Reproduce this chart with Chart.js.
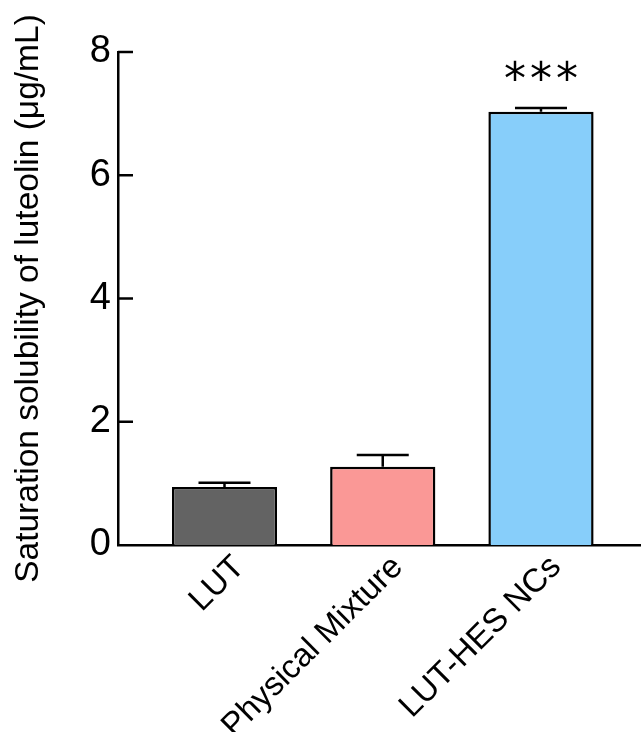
<!DOCTYPE html>
<html>
<head>
<meta charset="utf-8">
<script src="https://cdn.jsdelivr.net/npm/chart.js@4"></script>
<style>
  html, body { margin:0; padding:0; background:#fff; }
  #wrap { width:641px; height:732px; position:relative; }
</style>
</head>
<body>
<div id="wrap"><canvas id="chart"></canvas></div>
<script>
// data
const categories = ['LUT', 'Physical Mixture', 'LUT-HES NCs'];
const means = [0.94, 1.27, 7.03];
const errors = [0.07, 0.19, 0.06];
const signif = ['', '', '***'];
const barColors = ['#636363', '#FA9896', '#87CEFA'];
const yTicks = [0, 2, 4, 6, 8];

const FONT = "'Liberation Sans', Arial, sans-serif";

// error bars, inward y ticks, significance stars
const extras = {
  id: 'extras',
  afterDatasetsDraw(chart){
    const ctx = chart.ctx;
    const x = chart.scales.x, y = chart.scales.y;
    ctx.save();
    ctx.strokeStyle = '#000';
    ctx.lineWidth = 2.5;
    means.forEach((m, i)=>{
      const px = x.getPixelForValue(i);
      const top = y.getPixelForValue(m);
      const hi = y.getPixelForValue(m + errors[i]);
      ctx.beginPath();
      ctx.moveTo(px, top); ctx.lineTo(px, hi);
      ctx.moveTo(px - 26, hi); ctx.lineTo(px + 26, hi);
      ctx.stroke();
      if (signif[i]){
        ctx.fillStyle = '#000';
        ctx.font = "44px 'DejaVu Sans', sans-serif";
        ctx.textAlign = 'center';
        ctx.textBaseline = 'alphabetic';
        const chars = signif[i].split('');
        chars.forEach((c, k)=>{
          const dx = (k - (chars.length - 1) / 2) * 26;
          ctx.fillText(c, px + dx, hi - 14);
        });
      }
    });
    // tick marks pointing into the plot
    const left = chart.chartArea.left;
    yTicks.forEach(v=>{
      if (v === 0) return;
      const py = y.getPixelForValue(v);
      ctx.beginPath();
      ctx.moveTo(left, py); ctx.lineTo(left + 15, py);
      ctx.stroke();
    });
    ctx.restore();
  }
};

new Chart(document.getElementById('chart'), {
  type: 'bar',
  data: {
    datasets: [{
      data: means.map((v, i)=>({ x: i, y: v })),
      backgroundColor: barColors,
      borderColor: '#000',
      borderWidth: 2.5,
      borderSkipped: 'bottom',
      barPercentage: 0.665,
      categoryPercentage: 1.0
    }]
  },
  options: {
    responsive: true,
    maintainAspectRatio: false,
    animation: false,
    layout: { padding: { left: 0, top: 52, right: 0, bottom: 0 } },
    plugins: { legend: { display: false }, tooltip: { enabled: false } },
    scales: {
      x: {
        type: 'linear',
        offset: false,
        bounds: 'data',
        min: -0.673,
        max: 2.632,
        grid: { display: false, drawTicks: false, offset: false },
        border: { display: true, color: '#000', width: 2.5 },
        afterBuildTicks: (s)=>{ s.ticks = categories.map((c, i)=>({ value: i })); },
        afterFit: (s)=>{ s.height = 187; },
        ticks: {
          autoSkip: false,
          maxRotation: 45,
          minRotation: 45,
          padding: 3,
          labelOffset: 15,
          color: '#000',
          font: { family: FONT, size: 33 },
          callback: (v)=> categories[v]
        }
      },
      y: {
        min: 0,
        max: 8,
        grid: { display: false, drawTicks: false },
        border: { display: true, color: '#000', width: 2.5 },
        afterBuildTicks: (s)=>{ s.ticks = yTicks.map(v=>({ value: v })); },
        afterFit: (s)=>{ s.width = 118; },
        ticks: {
          padding: 7,
          color: '#000',
          font: { family: FONT, size: 38 }
        },
        title: {
          display: true,
          text: 'Saturation solubility of luteolin (\u03BCg/mL)',
          color: '#000',
          font: { family: FONT, size: 33.5 },
          padding: { top: 9, bottom: 0 }
        }
      }
    }
  },
  plugins: [extras]
});
</script>
</body>
</html>
